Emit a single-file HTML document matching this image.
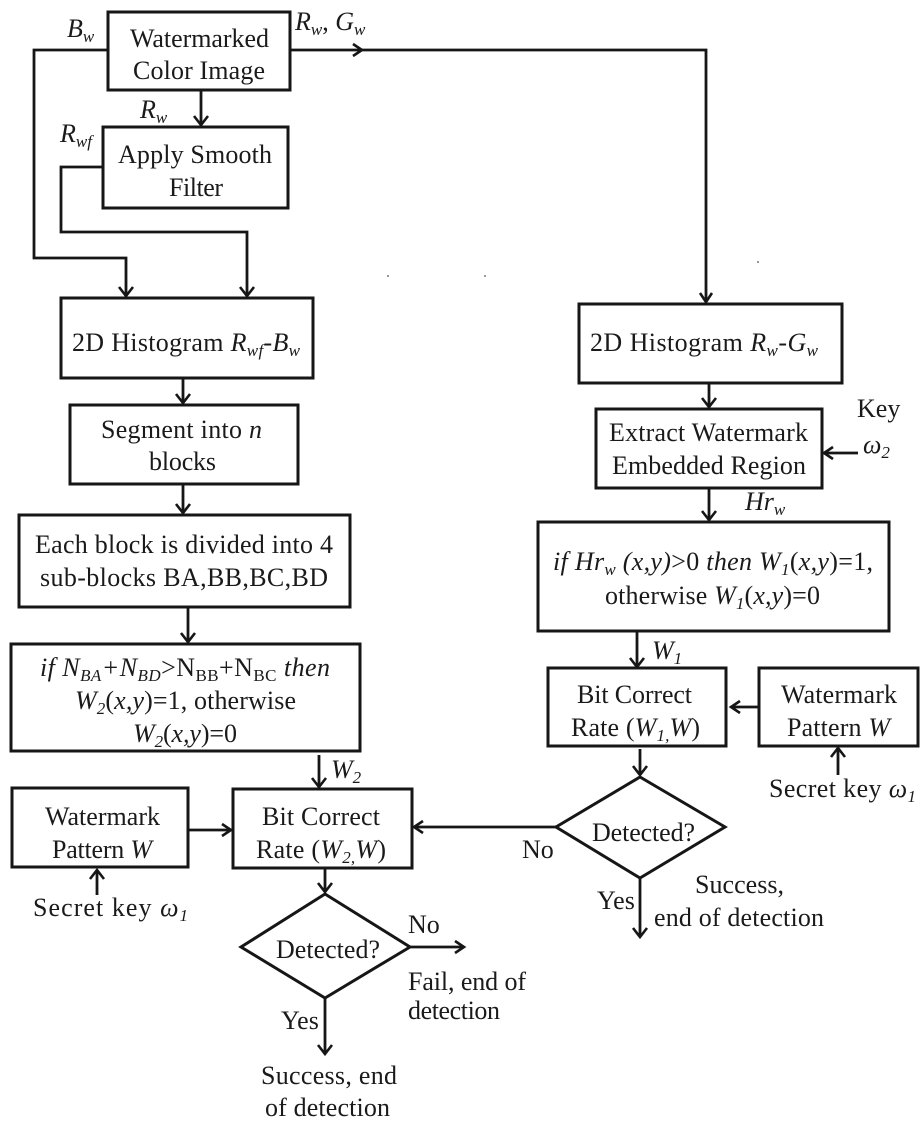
<!DOCTYPE html>
<html>
<head>
<meta charset="utf-8">
<style>
html,body{margin:0;padding:0;background:#fff;width:921px;height:1130px;overflow:hidden}
svg{display:block}
text{font-family:"Liberation Serif",serif;font-size:26px;fill:#1a1a1a;text-anchor:start}
tspan.s{font-size:17px}
rect,polygon.d{fill:#fff;stroke:#161616;stroke-width:3}
path.c{fill:none;stroke:#161616;stroke-width:2.8}
path.a{fill:none;stroke:#161616;stroke-width:2.6}
</style>
</head>
<body>
<svg width="921" height="1130" viewBox="0 0 921 1130" xmlns="http://www.w3.org/2000/svg">
<rect x="108" y="12" width="182" height="78"/>
<rect x="103" y="127" width="185" height="81"/>
<rect x="61" y="298" width="252" height="80"/>
<rect x="70" y="405" width="228" height="79"/>
<rect x="19" y="515" width="331" height="92"/>
<rect x="11" y="644" width="349" height="107"/>
<rect x="12" y="788" width="176" height="79"/>
<rect x="233" y="789" width="179" height="79"/>
<rect x="579" y="304" width="263" height="79"/>
<rect x="596" y="409" width="226" height="79"/>
<rect x="538" y="522" width="351" height="109"/>
<rect x="548" y="668" width="178" height="78"/>
<rect x="759" y="668" width="159" height="78"/>
<polygon class="d" points="640,777 725,827 640,878 556,827"/>
<polygon class="d" points="325,894 410,947 325,998 241,947"/>

<path class="c" d="M108 50H34V258H126V296"/>
<path class="c" d="M290 50H706V302"/>
<path class="c" d="M201 91V125"/>
<path class="c" d="M103 167H61V232H247V296"/>
<path class="c" d="M183 378V403"/>
<path class="c" d="M183 484V513"/>
<path class="c" d="M188 607V642"/>
<path class="c" d="M319 755V787"/>
<path class="c" d="M188 830H231"/>
<path class="c" d="M97 895V870"/>
<path class="c" d="M325 868V892"/>
<path class="c" d="M410 947H464"/>
<path class="c" d="M325 998V1054"/>
<path class="c" d="M709 383V407"/>
<path class="c" d="M709 488V520"/>
<path class="c" d="M637 631V667"/>
<path class="c" d="M858 453H824"/>
<path class="c" d="M759 707H731"/>
<path class="c" d="M838 775V748"/>
<path class="c" d="M640 749V775"/>
<path class="c" d="M556 827H414"/>
<path class="c" d="M640 878V937"/>

<path class="a" d="M119 287L126 296L133 287M240 287L247 296L254 287M700 293L706 302L712 293M353 44L362 50L353 56M194 116L201 125L208 116M176 394L183 403L190 394M176 504L183 513L190 504M181 633L188 642L195 633M312 778L319 787L326 778M222 824L231 830L222 836M90 879L97 870L104 879M318 883L325 892L332 883M455 941L464 947L455 953M318 1045L325 1054L332 1045M702 398L709 407L716 398M702 511L709 520L716 511M630 658L637 667L644 658M833 447L824 453L833 459M740 701L731 707L740 713M831 757L838 748L845 757M633 766L640 775L647 766M423 821L414 827L423 833M633 928L640 937L647 928"/>

<circle cx="388" cy="276" r="1" fill="#777"/>
<circle cx="485" cy="276" r="1" fill="#777"/>
<circle cx="758" cy="262" r="1" fill="#777"/>

<text x="130" y="47" textLength="139">Watermarked</text>
<text x="133" y="79" textLength="132">Color Image</text>
<text x="118" y="163" textLength="154">Apply Smooth</text>
<text x="169" y="196" textLength="54">Filter</text>
<text x="72" y="351" textLength="228">2D Histogram <tspan font-style="italic">R<tspan class="s" dy="5">wf</tspan><tspan dy="-5">-B</tspan><tspan class="s" dy="5">w</tspan></tspan></text>
<text x="101" y="438" textLength="161">Segment into <tspan font-style="italic">n</tspan></text>
<text x="149" y="470" textLength="67">blocks</text>
<text x="35" y="553" textLength="298">Each block is divided into 4</text>
<text x="40" y="586" textLength="288">sub-blocks BA,BB,BC,BD</text>
<text x="40" y="676" textLength="290"><tspan font-style="italic">if N<tspan class="s" dy="5">BA</tspan><tspan dy="-5">+N</tspan><tspan class="s" dy="5">BD</tspan></tspan><tspan dy="-5">&gt;N</tspan><tspan class="s" dy="5">BB</tspan><tspan dy="-5">+N</tspan><tspan class="s" dy="5">BC</tspan><tspan dy="-5" font-style="italic"> then</tspan></text>
<text x="75" y="709" textLength="221"><tspan font-style="italic">W<tspan class="s" dy="5">2</tspan></tspan><tspan dy="-5">(</tspan><tspan font-style="italic">x,y</tspan>)=1, otherwise</text>
<text x="133" y="742" textLength="104"><tspan font-style="italic">W<tspan class="s" dy="5">2</tspan></tspan><tspan dy="-5">(</tspan><tspan font-style="italic">x,y</tspan>)=0</text>
<text x="45" y="825" textLength="115">Watermark</text>
<text x="52" y="858" textLength="100">Pattern <tspan font-style="italic">W</tspan></text>
<text x="262" y="825" textLength="118">Bit Correct</text>
<text x="256" y="858" textLength="130">Rate (<tspan font-style="italic">W<tspan class="s" dy="5">2,</tspan><tspan dy="-5">W</tspan></tspan>)</text>
<text x="33" y="916" textLength="155">Secret key <tspan font-style="italic">ω<tspan class="s" dy="5">1</tspan></tspan></text>
<text x="276" y="958" textLength="104">Detected?</text>
<text x="408" y="933">No</text>
<text x="408" y="990" textLength="118">Fail, end of</text>
<text x="408" y="1019" textLength="92">detection</text>
<text x="281" y="1029">Yes</text>
<text x="261" y="1084" textLength="136">Success, end</text>
<text x="265" y="1116" textLength="125">of detection</text>
<text x="590" y="351" textLength="228">2D Histogram <tspan font-style="italic">R<tspan class="s" dy="5">w</tspan><tspan dy="-5">-G</tspan><tspan class="s" dy="5">w</tspan></tspan></text>
<text x="609" y="441" textLength="199">Extract Watermark</text>
<text x="612" y="474" textLength="194">Embedded Region</text>
<text x="553" y="570" textLength="320"><tspan font-style="italic">if Hr<tspan class="s" dy="5">w</tspan><tspan dy="-5"> (x,y)</tspan></tspan>&gt;0 <tspan font-style="italic">then W<tspan class="s" dy="5">1</tspan></tspan><tspan dy="-5">(</tspan><tspan font-style="italic">x,y</tspan>)=1,</text>
<text x="605" y="604" textLength="215">otherwise <tspan font-style="italic">W<tspan class="s" dy="5">1</tspan></tspan><tspan dy="-5">(</tspan><tspan font-style="italic">x,y</tspan>)=0</text>
<text x="577" y="703" textLength="115">Bit Correct</text>
<text x="571" y="736" textLength="129">Rate (<tspan font-style="italic">W<tspan class="s" dy="5">1,</tspan><tspan dy="-5">W</tspan></tspan>)</text>
<text x="781" y="703" textLength="116">Watermark</text>
<text x="787" y="736" textLength="103">Pattern <tspan font-style="italic">W</tspan></text>
<text x="769" y="797" textLength="147">Secret key <tspan font-style="italic">ω<tspan class="s" dy="5">1</tspan></tspan></text>
<text x="592" y="841" textLength="103">Detected?</text>
<text x="522" y="858">No</text>
<text x="597" y="909">Yes</text>
<text x="695" y="893" textLength="89">Success,</text>
<text x="654" y="926" textLength="170">end of detection</text>
<text x="857" y="417">Key</text>
<text x="863" y="453" font-style="italic">ω<tspan class="s" dy="5">2</tspan></text>
<text x="745" y="510" font-style="italic">Hr<tspan class="s" dy="5">w</tspan></text>
<text x="652" y="659" font-style="italic">W<tspan class="s" dy="5">1</tspan></text>
<text x="331" y="778" font-style="italic">W<tspan class="s" dy="5">2</tspan></text>
<text x="67" y="37" font-style="italic">B<tspan class="s" dy="5">w</tspan></text>
<text x="295" y="30"><tspan font-style="italic">R<tspan class="s" dy="5">w</tspan></tspan><tspan dy="-5">, </tspan><tspan font-style="italic">G<tspan class="s" dy="5">w</tspan></tspan></text>
<text x="140" y="118" font-style="italic">R<tspan class="s" dy="5">w</tspan></text>
<text x="60" y="142" font-style="italic">R<tspan class="s" dy="5">wf</tspan></text>
</svg>
</body>
</html>
